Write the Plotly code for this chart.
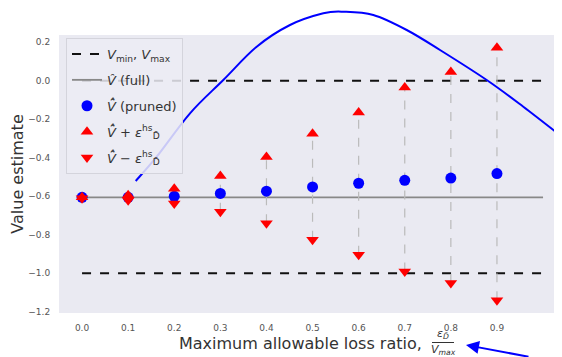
import plotly.graph_objects as go

# ---------------- data ----------------
x_ratio = [0.0, 0.1, 0.2, 0.3, 0.4, 0.5, 0.6, 0.7, 0.8, 0.9]
v_pruned = [-0.605, -0.605, -0.600, -0.585, -0.573, -0.551, -0.532, -0.517, -0.505, -0.482]
v_upper = [-0.605, -0.595, -0.560, -0.494, -0.396, -0.275, -0.164, -0.035, 0.046, 0.172]
v_lower = [-0.610, -0.620, -0.637, -0.680, -0.740, -0.826, -0.904, -0.990, -1.050, -1.140]
v_full = -0.605
v_min = -1.0
v_max = 0.0
line_x = [0.0, 1.0]

x_ticks = [0.0, 0.1, 0.2, 0.3, 0.4, 0.5, 0.6, 0.7, 0.8, 0.9]
y_ticks = [0.2, 0.0, -0.2, -0.4, -0.6, -0.8, -1.0, -1.2]

# hand-drawn blue overlay curve (pixel coordinates of the image)
curve_px = [(135.7, 181), (156.7, 156.7), (190, 113.3), (223.3, 80), (256.7, 46.7),
            (290, 25), (323.3, 13.3), (343.3, 11.7), (373.3, 15), (406.7, 30),
            (440, 50), (486.7, 80), (523.3, 106.7), (562, 136.7)]

# ---------------- layout geometry ----------------
OFF = 8                      # page body margin
WIN_W, WIN_H = 562, 357
W, H = WIN_W - OFF, WIN_H - OFF
PLOT_L, PLOT_T, PLOT_B = 59, 35, 313   # window pixels
ML, MR, MT, MB = PLOT_L - OFF, 0, PLOT_T - OFF, WIN_H - PLOT_B
PW, PH = W - ML - MR, H - MT - MB


def px2paper(px, py):
    fx, fy = px - OFF, py - OFF
    return (fx - ML) / PW, (H - MB - fy) / PH


fig = go.Figure()

# V_min / V_max dashed lines
fig.add_trace(go.Scatter(x=line_x, y=[v_max, v_max], mode="lines",
                         line=dict(color="#111111", width=2, dash="dash"),
                         name="<i>V</i><sub>min</sub>, <i>V</i><sub>max</sub>",
                         legendgroup="a"))
fig.add_trace(go.Scatter(x=line_x, y=[v_min, v_min], mode="lines",
                         line=dict(color="#111111", width=2, dash="dash"),
                         showlegend=False, legendgroup="a"))
# V full
fig.add_trace(go.Scatter(x=line_x, y=[v_full, v_full], mode="lines",
                         line=dict(color="#888888", width=1.8),
                         name="<i>V̂</i> (full)", legendgroup="b"))

# vertical gray dashed connectors
vx, vy = [], []
for xi, lo, hi in zip(x_ratio, v_lower, v_upper):
    vx += [xi, xi, None]
    vy += [lo, hi, None]
fig.add_trace(go.Scatter(x=vx, y=vy, mode="lines",
                         line=dict(color="#bbbbbb", width=1.2, dash="dash"),
                         showlegend=False, hoverinfo="skip"))

fig.add_trace(go.Scatter(x=x_ratio, y=v_pruned, mode="markers",
                         marker=dict(color="#0000ff", size=11),
                         name="<i>V̂̂</i> (pruned)", legendgroup="c"))
fig.add_trace(go.Scatter(x=x_ratio, y=v_upper, mode="markers",
                         marker=dict(color="#ff0000", size=11, symbol="triangle-up"),
                         name="<i>V̂̂</i> + <i>ε</i><sup>hs</sup><sub>D̄</sub>",
                         legendgroup="d"))
fig.add_trace(go.Scatter(x=x_ratio, y=v_lower, mode="markers",
                         marker=dict(color="#ff0000", size=11, symbol="triangle-down"),
                         name="<i>V̂̂</i> − <i>ε</i><sup>hs</sup><sub>D̄</sub>",
                         legendgroup="e"))

# blue overlay curve as smooth path (Catmull-Rom -> cubic Bezier)
pts = [px2paper(px, py) for px, py in curve_px]
path = f"M {pts[0][0]:.5f},{pts[0][1]:.5f}"
for i in range(len(pts) - 1):
    p0 = pts[i - 1] if i > 0 else pts[i]
    p1 = pts[i]
    p2 = pts[i + 1]
    p3 = pts[i + 2] if i + 2 < len(pts) else pts[i + 1]
    c1 = (p1[0] + (p2[0] - p0[0]) / 6, p1[1] + (p2[1] - p0[1]) / 6)
    c2 = (p2[0] - (p3[0] - p1[0]) / 6, p2[1] - (p3[1] - p1[1]) / 6)
    path += f" C {c1[0]:.5f},{c1[1]:.5f} {c2[0]:.5f},{c2[1]:.5f} {p2[0]:.5f},{p2[1]:.5f}"
fig.add_shape(type="path", path=path, xref="paper", yref="paper",
              line=dict(color="#0000ff", width=2), layer="above")

# x-axis title with stacked fraction
tx, ty = px2paper(300, 343)
fig.add_annotation(x=tx, y=ty, xref="paper", yref="paper", showarrow=False,
                   text="Maximum allowable loss ratio,", font=dict(size=16, color="#333333"),
                   xanchor="center", yanchor="middle")
nx, ny = px2paper(443, 334)
fig.add_annotation(x=nx, y=ny, xref="paper", yref="paper", showarrow=False,
                   text="<i>ε</i><sub><i>D̄</i></sub>", font=dict(size=11, color="#333333"),
                   xanchor="center", yanchor="middle")
dx, dy = px2paper(443, 350)
fig.add_annotation(x=dx, y=dy, xref="paper", yref="paper", showarrow=False,
                   text="<i>V</i><sub><i>max</i></sub>", font=dict(size=11, color="#333333"),
                   xanchor="center", yanchor="middle")
fx0, fy0 = px2paper(432, 342.5)
fx1, _ = px2paper(454, 342.5)
fig.add_shape(type="line", xref="paper", yref="paper", x0=fx0, x1=fx1, y0=fy0, y1=fy0,
              line=dict(color="#333333", width=1))

# blue arrow
ahx, ahy = px2paper(466, 345)
fig.add_annotation(x=ahx, y=ahy, xref="paper", yref="paper", ax=64, ay=14,
                   showarrow=True, arrowcolor="#0000ff", arrowwidth=2,
                   arrowhead=2, arrowsize=1.3, text="")

lx, ly = px2paper(66, 38)
fig.update_layout(
    width=W, height=H,
    margin=dict(l=ML, r=MR, t=MT, b=MB, autoexpand=False),
    paper_bgcolor="white",
    plot_bgcolor="#EAEAF2",
    font=dict(family="DejaVu Sans", color="#444444"),
    showlegend=True,
    legend=dict(x=lx, y=ly, xanchor="left", yanchor="top",
                bgcolor="rgba(236,236,244,0.85)", bordercolor="#d4d4dc", borderwidth=1,
                font=dict(size=13, color="#333333"), tracegroupgap=6,
                itemwidth=30),
    xaxis=dict(range=[-0.05, (WIN_W - PLOT_L) / 461 - 0.05], tickvals=x_ticks,
               automargin=False,
               ticktext=[f"{v:.1f}" for v in x_ticks], showgrid=False, zeroline=False,
               showline=False, ticks="outside", ticklen=6, tickcolor="rgba(0,0,0,0)",
               tickfont=dict(size=9, color="#555555")),
    yaxis=dict(range=[-1.206, 0.238], tickvals=y_ticks, automargin=False,
               ticktext=[f"{v:.1f}".replace("-", "−") for v in y_ticks],
               showgrid=False, zeroline=False, showline=False, ticks="outside",
               ticklen=6, tickcolor="rgba(0,0,0,0)",
               tickfont=dict(size=9, color="#555555"),
               title=dict(text="Value estimate", font=dict(size=16, color="#333333"),
                          standoff=8)),
)

fig.write_html("out.html")
